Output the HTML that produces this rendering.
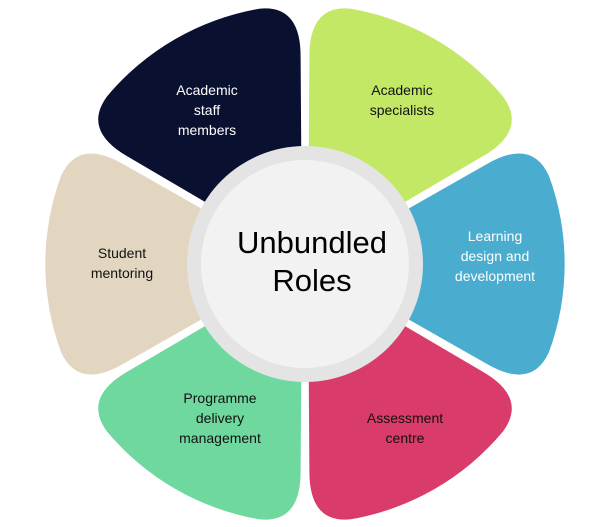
<!DOCTYPE html>
<html><head><style>
html,body{margin:0;padding:0;background:#fff;}
svg{display:block;}
text{font-family:"Liberation Sans",sans-serif;font-size:14px;text-anchor:middle;}
</style></head><body>
<svg width="600" height="527" viewBox="0 0 600 527" xmlns="http://www.w3.org/2000/svg">
<defs>
<path id="p" d="M0,0 L-100,-176 Q-126,-221 -88,-238 A255 255 0 0 1 88,-238 Q126,-221 100,-176 Z"/>
</defs>
<g transform="translate(305,264)">
<use href="#p" fill="#c2e866" transform="rotate(30) translate(0,-6)"/>
<use href="#p" fill="#4aacce" transform="rotate(90) translate(0,-6)"/>
<use href="#p" fill="#d93c6a" transform="rotate(150) translate(0,-6)"/>
<use href="#p" fill="#6fd89e" transform="rotate(210) translate(0,-6)"/>
<use href="#p" fill="#e3d6c1" transform="rotate(270) translate(0,-6)"/>
<use href="#p" fill="#0a1030" transform="rotate(330) translate(0,-6)"/>
<circle r="118" fill="#e4e4e4"/>
<circle r="104" fill="#f2f2f2"/>
</g>
<text x="312" y="253" style="font-size:31px">Unbundled</text>
<text x="312" y="291" style="font-size:31px">Roles</text>
<g fill="#fff">
<text x="207" y="95">Academic</text><text x="207" y="115">staff</text><text x="207" y="135">members</text>
<text x="495" y="241">Learning</text><text x="495" y="261">design and</text><text x="495" y="281">development</text>
</g>
<g fill="#111">
<text x="402" y="95">Academic</text><text x="402" y="115">specialists</text>
<text x="405" y="423">Assessment</text><text x="405" y="443">centre</text>
<text x="220" y="403">Programme</text><text x="220" y="423">delivery</text><text x="220" y="443">management</text>
<text x="122" y="258">Student</text><text x="122" y="278">mentoring</text>
</g>
</svg>
</body></html>
